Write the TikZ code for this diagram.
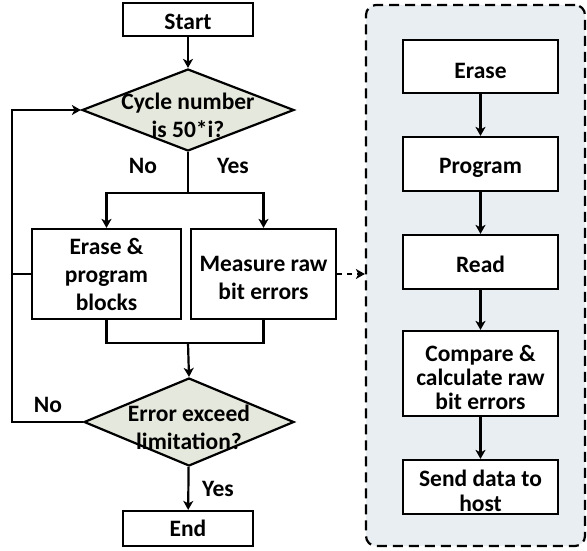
\documentclass[tikz,border=0pt]{standalone}
\usepackage{fontspec}
\setmainfont{Carlito}
\usetikzlibrary{shapes.geometric,arrows.meta,calc}
\definecolor{decfill}{RGB}{229,232,220}
\definecolor{panelfill}{RGB}{233,238,242}
\begin{document}
\begin{tikzpicture}[x=1pt,y=-1pt,
  line width=2.2pt,
  every node/.style={font=\bfseries\fontsize{23.5}{28}\selectfont, align=center, inner sep=0pt},
  box/.style={draw, fill=white, rectangle, minimum width=#1},
  box/.default=130pt,
  decision/.style={draw, fill=decfill, diamond, aspect=2.5},
  arr/.style={-{Stealth[length=9pt,width=10pt,inset=2.5pt]}}
]
\useasboundingbox (0,0) rectangle (587,550);

% side panel with the measurement steps
\node[draw, dashed, dash pattern=on 10pt off 6pt, rounded corners=10pt, fill=panelfill,
      minimum width=219pt, minimum height=541pt] (panel) at (475.5,275.5) {};

% main flow: shapes
\node[box, minimum height=33pt] (start) at (188,19.5) {};
\node[decision, minimum width=212pt, minimum height=82pt] (d1) at (188,110) {};
\node[box=149pt, minimum height=90pt] (ep) at (106.5,274) {};
\node[box=145pt, minimum height=90pt] (meas) at (263.5,274) {};
\node[decision, minimum width=210pt, minimum height=88pt] (d2) at (189,422) {};
\node[box, minimum height=35pt] (end) at (188,528.5) {};

% main flow: texts
\node (startt) at (188,22) {Start};
\node (d1t) at (188,115) {Cycle number\\is 50*i?};
\node (ept) at (106.5,274.5) {Erase \&\\program\\blocks};
\node (meast) at (263.5,278) {Measure raw\\bit errors};
\node (d2t) at (189,427) {Error exceed\\limitation?};
\node (endt) at (188,528.5) {End};

\node (no1) at (143,166) {No};
\node (yes1) at (233,166) {Yes};
\node (no2) at (48,405) {No};
\node (yes2) at (218,489) {Yes};

\coordinate (split) at (188,193);
\coordinate (join) at (188,343);
\coordinate (loopx) at (12,0);

\draw[arr] (start) -- (d1);
\draw (d1.south) -- (split);
\draw[arr] (split) -| (ep.north);
\draw[arr] (split) -| (meas.north);
\draw (ep.south) |- (join);
\draw (meas.south) |- (join);
\draw[arr] (join) -- (d2.north);
\draw[arr] (d2) -- (end);
\draw[arr] (d2.west) -- (loopx |- d2.west) -- (loopx |- d1.west) -- (d1.west);
\draw (ep.west) -- (loopx |- ep.west);
\draw[arr, dashed, dash pattern=on 5pt off 5pt] (meas.east) -- (panel.west |- meas.east);

% panel steps: shapes
\node[box=155pt, minimum height=53pt] (s1) at (480.5,66.5) {};
\node[box=155pt, minimum height=54pt] (s2) at (480.5,164) {};
\node[box=155pt, minimum height=54pt] (s3) at (480.5,262) {};
\node[box=155pt, minimum height=85pt] (s4) at (480.5,373.5) {};
\node[box=155pt, minimum height=54pt] (s5) at (480.5,487) {};

% panel steps: texts
\node (s1t) at (480.5,71) {Erase};
\node (s2t) at (480.5,167.5) {Program};
\node (s3t) at (480.5,264.5) {Read};
\node[font=\bfseries\fontsize{23.5}{24}\selectfont] (s4t) at (480.5,377) {Compare \&\\calculate raw\\bit errors};
\node[font=\bfseries\fontsize{23.5}{25}\selectfont] (s5t) at (480.5,490.5) {Send data to\\host};

\draw[arr] (s1) -- (s2);
\draw[arr] (s2) -- (s3);
\draw[arr] (s3) -- (s4);
\draw[arr] (s4) -- (s5);
\end{tikzpicture}
\end{document}
